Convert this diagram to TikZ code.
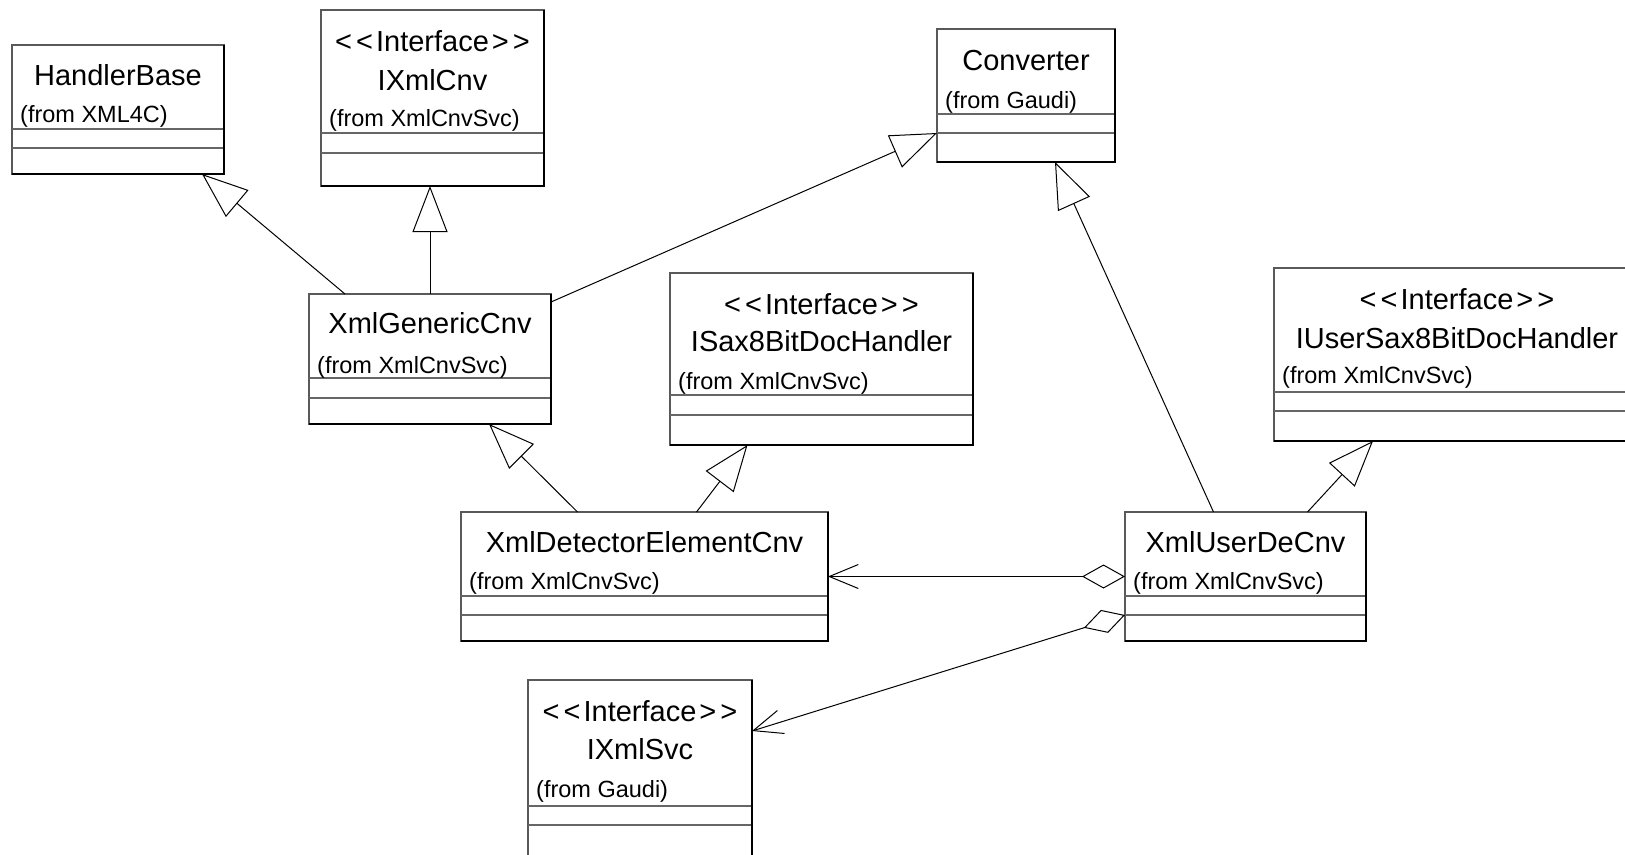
\documentclass[tikz,border=0pt]{standalone}
\usepackage{fontspec}
\setmainfont{Liberation Sans}
\usetikzlibrary{arrows.meta}
\newcommand\namefont{\fontsize{29}{34}\selectfont}
\newcommand\fromfont{\fontsize{23.5}{28}\selectfont}
\newcommand\stereo{<\kern4pt<\kern3pt Interface\kern3pt>\kern4pt>}
\tikzset{
  classbox/.style={draw=black!65, line width=1.2pt, anchor=north west, inner sep=0pt, outer sep=0pt},
  cname/.style={anchor=base, font=\namefont, inner sep=0pt},
  cfrom/.style={anchor=base west, font=\fromfont, inner sep=0pt},
  sepline/.style={draw=black!60, line width=1.2pt},
  edgeline/.style={draw=black, line width=2pt},
  inherit/.style={-{Triangle[open, length=46pt, width=35pt]}, line width=1pt},
  assoc/.style={{Diamond[open, length=43pt, width=24pt]}-{Straight Barb[length=29pt, width=24pt]}, line width=1pt}
}
\begin{document}
\begin{tikzpicture}[x=1pt,y=-1pt]
\useasboundingbox (0,0) rectangle (1625,854);
\fill[white] (0,0) rectangle (1625,854);
\clip (0,0) rectangle (1625,854);
% class boxes
\node[classbox, minimum width=212pt, minimum height=129pt] (hb) at (12,45) {};
\node[classbox, minimum width=223pt, minimum height=176pt] (ixc) at (321,10) {};
\node[classbox, minimum width=178pt, minimum height=133pt] (conv) at (937,29) {};
\node[classbox, minimum width=242pt, minimum height=130pt] (gen) at (309,294) {};
\node[classbox, minimum width=303pt, minimum height=172pt] (isax) at (670,273) {};
\node[classbox, minimum width=366pt, minimum height=173pt] (iusax) at (1274,268) {};
\node[classbox, minimum width=367pt, minimum height=129pt] (de) at (461,512) {};
\node[classbox, minimum width=241pt, minimum height=129pt] (ude) at (1125,512) {};
\node[classbox, minimum width=224pt, minimum height=182pt] (ixs) at (528,680) {};
% compartments
\foreach \n/\a/\b in {hb/84/103, ixc/123/143, conv/85/104, gen/84/104, isax/122/142,
                      iusax/124/143, de/84/103, ude/84/103, ixs/126/145}{
  \draw[sepline] ([yshift=-\a pt]\n.north west) -- ([yshift=-\a pt]\n.north east);
  \draw[sepline] ([yshift=-\b pt]\n.north west) -- ([yshift=-\b pt]\n.north east);
  \draw[edgeline] (\n.south west) -- (\n.south east) -- (\n.north east);
}
% names
\node[cname] at ([yshift=-40pt]hb.north) {HandlerBase};
\node[cfrom] at ([xshift=8pt,yshift=-77pt]hb.north west) {(from XML4C)};
\node[cname] at ([yshift=-41pt]ixc.north) {\stereo};
\node[cname] at ([yshift=-80pt]ixc.north) {IXmlCnv};
\node[cfrom] at ([xshift=8pt,yshift=-116pt]ixc.north west) {(from XmlCnvSvc)};
\node[cname] at ([yshift=-41pt]conv.north) {Converter};
\node[cfrom] at ([xshift=8pt,yshift=-79pt]conv.north west) {(from Gaudi)};
\node[cname] at ([yshift=-39pt]gen.north) {XmlGenericCnv};
\node[cfrom] at ([xshift=8pt,yshift=-79pt]gen.north west) {(from XmlCnvSvc)};
\node[cname] at ([yshift=-41pt]isax.north) {\stereo};
\node[cname] at ([yshift=-78pt]isax.north) {ISax8BitDocHandler};
\node[cfrom] at ([xshift=8pt,yshift=-116pt]isax.north west) {(from XmlCnvSvc)};
\node[cname] at ([yshift=-41pt]iusax.north) {\stereo};
\node[cname] at ([yshift=-80pt]iusax.north) {IUserSax8BitDocHandler};
\node[cfrom] at ([xshift=8pt,yshift=-115pt]iusax.north west) {(from XmlCnvSvc)};
\node[cname] at ([yshift=-40pt]de.north) {XmlDetectorElementCnv};
\node[cfrom] at ([xshift=8pt,yshift=-77pt]de.north west) {(from XmlCnvSvc)};
\node[cname] at ([yshift=-40pt]ude.north) {XmlUserDeCnv};
\node[cfrom] at ([xshift=8pt,yshift=-77pt]ude.north west) {(from XmlCnvSvc)};
\node[cname] at ([yshift=-41pt]ixs.north) {\stereo};
\node[cname] at ([yshift=-79pt]ixs.north) {IXmlSvc};
\node[cfrom] at ([xshift=8pt,yshift=-117pt]ixs.north west) {(from Gaudi)};
% generalizations
\draw[inherit] ([xshift=-85pt]gen.north) -- ([xshift=84pt]hb.south);
\draw[inherit] (gen.north) -- (gen.north |- ixc.south);
\draw[inherit] ([yshift=-8pt]gen.north east) -- ([yshift=-104pt]conv.north west);
\draw[inherit] ([xshift=-67pt]de.north) -- ([xshift=59pt]gen.south);
\draw[inherit] ([xshift=52pt]de.north) -- ([xshift=-74pt]isax.south);
\draw[inherit] ([xshift=-32pt]ude.north) -- ([xshift=29pt]conv.south);
\draw[inherit] ([xshift=62pt]ude.north) -- ([xshift=-84pt]iusax.south);
% aggregations
\draw[assoc] (ude.west) -- (de.east);
\draw[assoc] ([yshift=-103pt]ude.north west) -- ([yshift=-51pt]ixs.north east);
\end{tikzpicture}
\end{document}
